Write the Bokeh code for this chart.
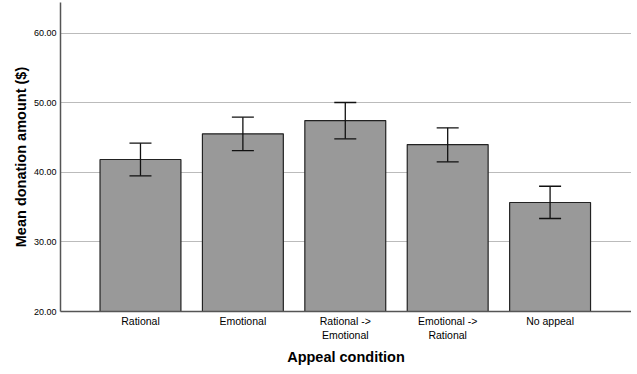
from bokeh.plotting import figure
from bokeh.embed import file_html
from bokeh.resources import INLINE
from bokeh.models import Range1d, FixedTicker, ColumnDataSource, Whisker
from bokeh.models import TeeHead

categories = ["Rational", "Emotional", "Rational ->\nEmotional", "Emotional ->\nRational", "No appeal"]
means = [41.84, 45.53, 47.44, 43.99, 35.66]
upper = [44.18, 47.92, 50.03, 46.39, 38.00]
lower = [39.50, 43.13, 44.81, 41.51, 33.36]
y_ticks = [20, 30, 40, 50, 60]
y_tick_labels = ["20.00", "30.00", "40.00", "50.00", "60.00"]

xs = list(range(len(categories)))

p = figure(width=631, height=367, output_backend="svg", toolbar_location=None,
           x_range=Range1d(-0.781, 4.795), y_range=Range1d(20, 64.4),
           min_border_left=60, min_border_right=0, min_border_top=2, min_border_bottom=56)
p.outline_line_color = None

src = ColumnDataSource(dict(x=xs, top=means, upper=upper, lower=lower))
p.vbar(x="x", top="top", bottom=20, width=0.79, source=src,
       fill_color="#999999", line_color="#222222", line_width=1.2)

w = Whisker(base="x", upper="upper", lower="lower", source=src, level="overlay",
            line_color="#111111", line_width=1.3,
            upper_head=TeeHead(size=22, line_color="#111111", line_width=1.3),
            lower_head=TeeHead(size=22, line_color="#111111", line_width=1.3))
p.add_layout(w)

p.xaxis.ticker = FixedTicker(ticks=xs)
p.xaxis.major_label_overrides = {i: c for i, c in enumerate(categories)}
p.xaxis.major_tick_line_color = None
p.xaxis.minor_tick_line_color = None
p.xaxis.major_tick_out = 0
p.xaxis.major_tick_in = 0
p.xaxis.minor_tick_out = 0
p.xaxis.major_label_standoff = 3
p.xaxis.major_label_text_font = "Liberation Sans"
p.xaxis.major_label_text_font_size = "10.5px"
p.xaxis.major_label_text_color = "#000000"
p.xaxis.axis_line_color = "#555555"
p.xaxis.axis_line_width = 1.5
p.xaxis.axis_label = "Appeal condition"
p.xaxis.axis_label_text_font = "Liberation Sans"
p.xaxis.axis_label_text_font_style = "bold"
p.xaxis.axis_label_text_font_size = "14.5px"
p.xaxis.axis_label_text_color = "#000000"
p.xaxis.axis_label_standoff = 5

p.yaxis.ticker = FixedTicker(ticks=y_ticks)
p.yaxis.major_label_overrides = {t: l for t, l in zip(y_ticks, y_tick_labels)}
p.yaxis.major_tick_line_color = None
p.yaxis.minor_tick_line_color = None
p.yaxis.major_tick_out = 0
p.yaxis.major_tick_in = 0
p.yaxis.minor_tick_out = 0
p.yaxis.major_label_standoff = 4
p.yaxis.major_label_text_font = "Liberation Sans"
p.yaxis.major_label_text_font_size = "9px"
p.yaxis.major_label_text_color = "#000000"
p.yaxis.axis_line_color = "#555555"
p.yaxis.axis_line_width = 1.5
p.yaxis.axis_label = "Mean donation amount ($)"
p.yaxis.axis_label_text_font = "Liberation Sans"
p.yaxis.axis_label_text_font_style = "bold"
p.yaxis.axis_label_text_font_size = "14.5px"
p.yaxis.axis_label_text_color = "#000000"
p.yaxis.axis_label_standoff = 2

p.xgrid.grid_line_color = None
p.ygrid.grid_line_color = "#bbbbbb"
p.ygrid.grid_line_width = 1

open("out.html", "w").write(file_html(p, INLINE))
